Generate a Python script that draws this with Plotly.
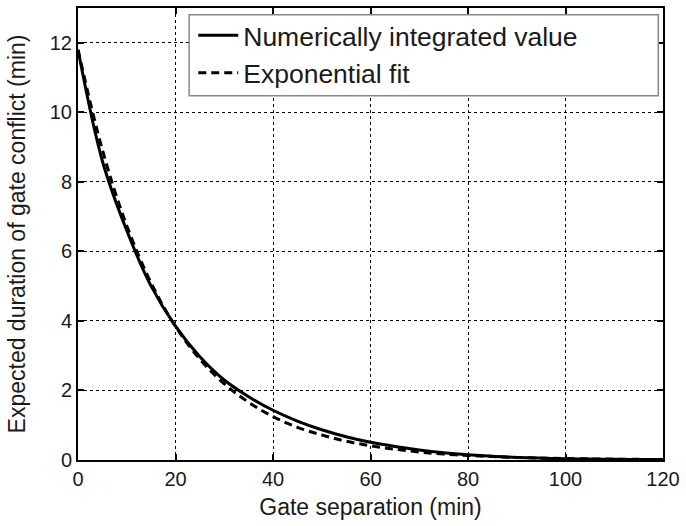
import plotly.graph_objects as go

# Data
gate_sep = [0, 5, 10, 15, 20, 25, 30, 35, 40, 45, 50, 55, 60, 65, 70, 75, 80, 85, 90, 95, 100, 105, 110, 115, 120]
numeric_val = [11.8, 8.6, 6.6, 5.0, 3.85, 2.97, 2.3, 1.82, 1.43, 1.12, 0.87, 0.67, 0.51, 0.39, 0.29, 0.21, 0.15, 0.105, 0.075, 0.053, 0.038, 0.027, 0.02, 0.015, 0.011]
exp_fit = [11.8, 8.92, 6.74, 5.09, 3.84, 2.9, 2.19, 1.66, 1.25, 0.94, 0.72, 0.54, 0.41, 0.31, 0.23, 0.17, 0.13, 0.1, 0.075, 0.057, 0.043, 0.032, 0.024, 0.018, 0.014]

x_ticks = [0, 20, 40, 60, 80, 100, 120]
y_ticks = [0, 2, 4, 6, 8, 10, 12]

FONT = "Liberation Sans, Arial, Helvetica, sans-serif"
TXT = "#1a1a1a"

fig = go.Figure()
fig.add_trace(go.Scatter(x=gate_sep, y=numeric_val, mode="lines", name="Numerically integrated value",
                         line=dict(color="black", width=3, shape="spline")))
fig.add_trace(go.Scatter(x=gate_sep, y=exp_fit, mode="lines", name="Exponential fit",
                         line=dict(color="black", width=3, dash="8px,5px", shape="spline")))

# legend box
fig.add_shape(type="rect", xref="paper", yref="paper", x0=0.19, x1=0.992, y0=0.806, y1=0.985,
              fillcolor="white", line=dict(color="#888888", width=1.5), layer="above")

axis_common = dict(showline=True, linecolor="black", linewidth=2, mirror="ticks",
                   ticks="inside", ticklen=6, tickwidth=2, tickcolor="black",
                   showgrid=True, gridcolor="black", gridwidth=1, griddash="dot",
                   zeroline=False, tickfont=dict(size=20, color=TXT, family=FONT))

fig.update_xaxes(range=[0, 120], tickvals=x_ticks,
                 title=dict(text="Gate separation (min)", font=dict(size=23, color=TXT, family=FONT), standoff=10),
                 **axis_common)
fig.update_yaxes(range=[0, 13], tickvals=y_ticks,
                 title=dict(text="Expected duration of gate conflict (min)", font=dict(size=23, color=TXT, family=FONT), standoff=18),
                 **axis_common)

fig.update_layout(
    width=686, height=526,
    margin=dict(l=78, r=19, t=6, b=66),
    plot_bgcolor="white", paper_bgcolor="white",
    font=dict(family=FONT, color=TXT),
    legend=dict(x=0.197, y=0.992, xanchor="left", yanchor="top",
                bgcolor="rgba(0,0,0,0)", borderwidth=0, itemwidth=40,
                font=dict(size=26.5, color=TXT, family=FONT), tracegroupgap=0),
    showlegend=True,
)

fig.write_html("out.html")
